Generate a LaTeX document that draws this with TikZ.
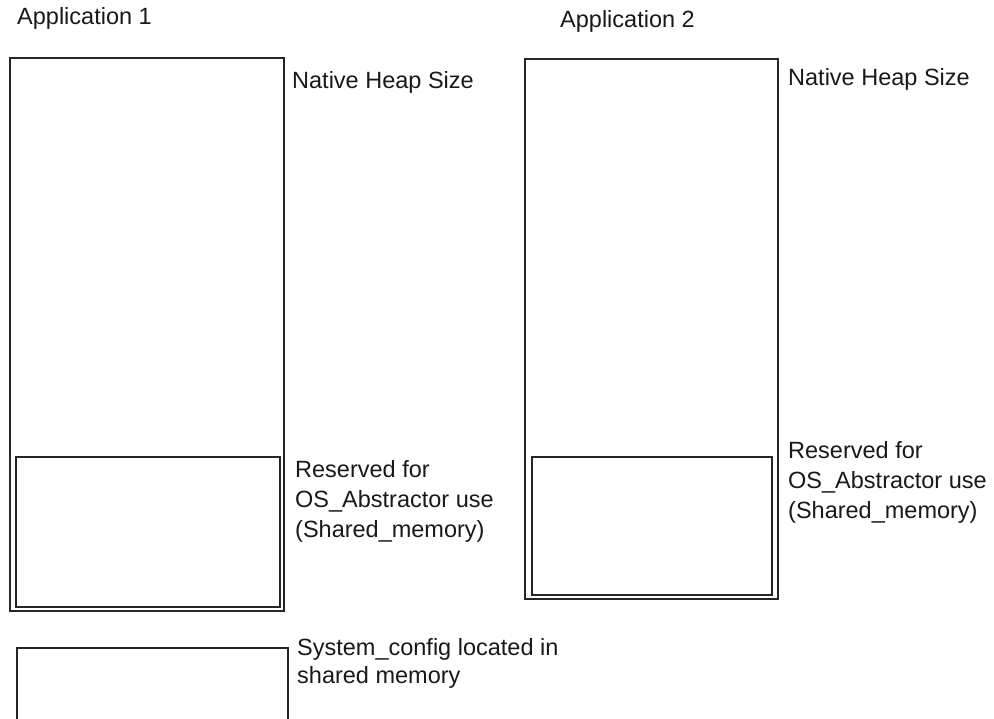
\documentclass[tikz,border=0pt]{standalone}
\usepackage{fontspec}
\setmainfont{Liberation Sans}
\begin{document}
\begin{tikzpicture}[x=1pt,y=-1pt,
  box/.style={draw=black!85, line width=1.7pt, inner sep=0pt, anchor=north west},
  lbl/.style={anchor=base west, inner sep=0pt, text=black!90, font=\fontsize{23.5}{30}\selectfont}]
\useasboundingbox (0,0) rectangle (994,719);
\clip (0,0) rectangle (994,719);
\fill[white] (0,0) rectangle (994,719);
% Application 1
\node[box, minimum width=274pt, minimum height=553pt] (app1) at (9,57) {};
\node[box, minimum width=264pt, minimum height=150pt] (res1) at (15,456) {};
\node[lbl] (t1) at (17,25) {Application 1};
\node[lbl] (nh1) at (292,89) {Native Heap Size};
\node[lbl] (r1) at (295,477) {\vtop{\baselineskip=30pt\hbox{Reserved for}\hbox{OS\_Abstractor use}\hbox{(Shared\_memory)}}};
% System config
\node[box, minimum width=271pt, minimum height=100pt] (sys) at (16,647) {};
\node[lbl] (s1) at (297,655) {\vtop{\baselineskip=28pt\hbox{System\_config located in}\hbox{shared memory}}};
% Application 2
\node[box, minimum width=253pt, minimum height=540pt] (app2) at (524,58) {};
\node[box, minimum width=240pt, minimum height=138pt] (res2) at (531,456) {};
\node[lbl] (t2) at (560,28) {Application 2};
\node[lbl] (nh2) at (788,86) {Native Heap Size};
\node[lbl] (r2) at (788,458) {\vtop{\baselineskip=30pt\hbox{Reserved for}\hbox{OS\_Abstractor use}\hbox{(Shared\_memory)}}};
\end{tikzpicture}
\end{document}
